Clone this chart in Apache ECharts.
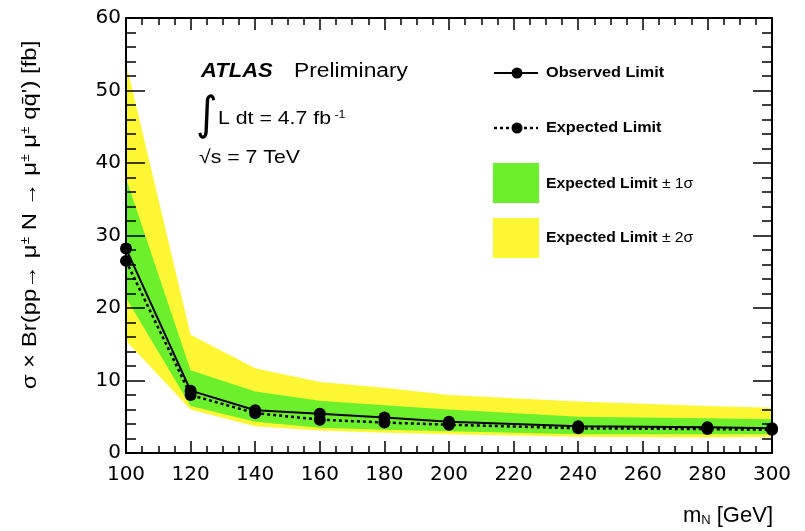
<!DOCTYPE html>
<html>
<head>
<meta charset="utf-8">
<script src="https://cdn.jsdelivr.net/npm/echarts@6/dist/echarts.min.js"></script>
<style>
  html, body { margin: 0; padding: 0; background: #fff; }
  #chart { width: 805px; height: 531px; }
</style>
</head>
<body>
<div id="chart"></div>
<script>
// Heavy neutrino mass points [GeV]
const mass = [100, 120, 140, 160, 180, 200, 240, 280, 300];
// Cross-section limits [fb]
const observed = [28.2, 8.6, 5.9, 5.4, 4.9, 4.3, 3.7, 3.55, 3.4];
const expected = [26.5, 8.0, 5.5, 4.6, 4.2, 3.9, 3.4, 3.3, 3.2];
// Expected-limit bands
const sigma1Lo = [21.4, 6.5, 4.3, 3.5, 3.2, 3.0, 2.6, 2.6, 2.6];
const sigma1Hi = [37.9, 11.4, 8.5, 7.2, 6.6, 6.0, 5.0, 4.8, 4.65];
const sigma2Lo = [15.5, 6.0, 3.7, 3.1, 2.8, 2.6, 2.25, 2.15, 2.2];
const sigma2Hi = [53.8, 16.3, 11.7, 9.8, 9.0, 8.0, 7.1, 6.5, 6.25];
// Axis ranges
const xTicks = { min: 100, max: 300, step: 20 };
const yTicks = { min: 0, max: 60, step: 10 };

const GREEN = '#6cf02e';
const YELLOW = '#fdf633';
const LABEL_FONT = 'DejaVu Sans';
const TEXT_FONT = 'Liberation Sans';

// Filled band between two curves, drawn as one polygon through the axis scales
function bandRenderer(lo, hi, color) {
  return function (params, api) {
    if (params.dataIndex !== 0) return null;
    const upper = mass.map((m, i) => api.coord([m, hi[i]]));
    const lower = mass.map((m, i) => api.coord([m, lo[i]])).reverse();
    return {
      type: 'polygon',
      shape: { points: upper.concat(lower) },
      style: { fill: color, stroke: null }
    };
  };
}

function xAxisDef(pos, showLabels) {
  return {
    type: 'value', position: pos,
    min: xTicks.min, max: xTicks.max, interval: xTicks.step,
    z: 5,
    axisLine: { show: true, onZero: false, lineStyle: { color: '#000', width: 2 } },
    axisTick: { show: true, inside: true, length: 12, lineStyle: { color: '#000', width: 1.5 } },
    minorTick: { show: true, splitNumber: 4, length: 7, lineStyle: { color: '#000', width: 1.5 } },
    splitLine: { show: false },
    axisLabel: { show: showLabels, margin: 12, color: '#000', fontSize: 20, fontFamily: LABEL_FONT }
  };
}
function yAxisDef(pos, showLabels) {
  return {
    type: 'value', position: pos,
    min: yTicks.min, max: yTicks.max, interval: yTicks.step,
    z: 5,
    axisLine: { show: true, onZero: false, lineStyle: { color: '#000', width: 2 } },
    axisTick: { show: true, inside: true, length: 19, lineStyle: { color: '#000', width: 1.5 } },
    minorTick: { show: true, splitNumber: 5, length: 10, lineStyle: { color: '#000', width: 1.5 } },
    splitLine: { show: false },
    axisLabel: { show: showLabels, margin: 5, color: '#000', fontSize: 20, fontFamily: LABEL_FONT }
  };
}

const pts = (ys) => mass.map((m, i) => [m, ys[i]]);

const chart = echarts.init(document.getElementById('chart'), null, { renderer: 'canvas' });

const txt = (x, y, text, extra) => ({
  type: 'text', x: x, y: y, z: 20,
  style: Object.assign({ text: text, fill: '#000', verticalAlign: 'middle', align: 'left' }, extra)
});

const legendRich = {
  b: { fontSize: 14, fontWeight: 'bold', fontFamily: TEXT_FONT, fill: '#000' },
  n: { fontSize: 14, fontFamily: TEXT_FONT, fill: '#000' }
};

chart.setOption({
  animation: false,
  backgroundColor: '#fff',
  grid: { left: 126, right: 33, top: 18, bottom: 78, containLabel: false },
  xAxis: [xAxisDef('bottom', true), xAxisDef('top', false)],
  yAxis: [yAxisDef('left', true), yAxisDef('right', false)],
  series: [
    {
      name: 'Expected Limit ± 2σ', type: 'custom', z: 1, clip: true,
      renderItem: bandRenderer(sigma2Lo, sigma2Hi, YELLOW),
      data: mass.map((m, i) => [m, sigma2Lo[i], sigma2Hi[i]]),
      encode: { x: 0, y: [1, 2] }
    },
    {
      name: 'Expected Limit ± 1σ', type: 'custom', z: 2, clip: true,
      renderItem: bandRenderer(sigma1Lo, sigma1Hi, GREEN),
      data: mass.map((m, i) => [m, sigma1Lo[i], sigma1Hi[i]]),
      encode: { x: 0, y: [1, 2] }
    },
    {
      name: 'Expected Limit', type: 'line', z: 3,
      data: pts(expected),
      symbol: 'circle', symbolSize: 12,
      itemStyle: { color: '#000' },
      lineStyle: { color: '#000', width: 2.5, type: [3, 3] }
    },
    {
      name: 'Observed Limit', type: 'line', z: 4,
      data: pts(observed),
      symbol: 'circle', symbolSize: 12,
      itemStyle: { color: '#000' },
      lineStyle: { color: '#000', width: 2 }
    }
  ],
  graphic: [
    // Y axis title
    {
      type: 'text', x: 30, y: 215, rotation: Math.PI / 2, scaleX: 1.14, z: 20,
      style: {
        text: "σ × Br(pp→ μ{s|±} N → μ{s|±} μ{s|±} qq\u0304') [fb]",
        font: '21px "' + TEXT_FONT + '"',
        fill: '#000', align: 'center', verticalAlign: 'middle',
        rich: { s: { fontSize: 12, fontFamily: TEXT_FONT, verticalAlign: 'top', fill: '#000' } }
      }
    },
    // X axis title
    txt(773, 516, '{m|m}{s|N}{m| [GeV]}', {
      align: 'right',
      rich: {
        m: { fontSize: 22, fontFamily: TEXT_FONT, fill: '#000' },
        s: { fontSize: 13, fontFamily: TEXT_FONT, fill: '#000', verticalAlign: 'bottom' }
      }
    }),
    // Experiment label block
    Object.assign(txt(201, 71, 'ATLAS', { font: 'italic bold 20px "' + TEXT_FONT + '"' }), { scaleX: 1.1 }),
    Object.assign(txt(294, 71, 'Preliminary', { font: '20px "' + TEXT_FONT + '"' }), { scaleX: 1.14 }),
    Object.assign(txt(196, 117, '∫', { font: '46px "DejaVu Sans"' }), { scaleX: 0.9 }),
    Object.assign(txt(218, 119, '{n|L dt = 4.7 fb}{s| -1}', {
      rich: {
        n: { fontSize: 19, fontFamily: TEXT_FONT, fill: '#000' },
        s: { fontSize: 11, fontFamily: TEXT_FONT, fill: '#000', verticalAlign: 'top' }
      }
    }), { scaleX: 1.12 }),
    Object.assign(txt(199, 158, '√s = 7 TeV', { font: '19px "' + TEXT_FONT + '"' }), { scaleX: 1.12 }),
    // Legend: observed
    { type: 'line', z: 20, shape: { x1: 494, y1: 73, x2: 538, y2: 73 }, style: { stroke: '#000', lineWidth: 2 } },
    { type: 'circle', z: 21, shape: { cx: 517, cy: 73, r: 5.5 }, style: { fill: '#000' } },
    Object.assign(txt(546, 73, 'Observed Limit', { font: 'bold 14px "' + TEXT_FONT + '"' }), { scaleX: 1.16 }),
    // Legend: expected
    { type: 'line', z: 20, shape: { x1: 494, y1: 128, x2: 538, y2: 128 }, style: { stroke: '#000', lineWidth: 2.5, lineDash: [3, 3] } },
    { type: 'circle', z: 21, shape: { cx: 517, cy: 128, r: 5.5 }, style: { fill: '#000' } },
    Object.assign(txt(546, 128, 'Expected Limit', { font: 'bold 14px "' + TEXT_FONT + '"' }), { scaleX: 1.16 }),
    // Legend: bands
    { type: 'rect', z: 20, shape: { x: 493, y: 163, width: 46, height: 40 }, style: { fill: GREEN } },
    Object.assign(txt(546, 184, '{b|Expected Limit }{n|± 1σ}', { rich: legendRich }), { scaleX: 1.12 }),
    { type: 'rect', z: 20, shape: { x: 493, y: 218, width: 46, height: 40 }, style: { fill: YELLOW } },
    Object.assign(txt(546, 238, '{b|Expected Limit }{n|± 2σ}', { rich: legendRich }), { scaleX: 1.12 })
  ]
});
</script>
</body>
</html>
